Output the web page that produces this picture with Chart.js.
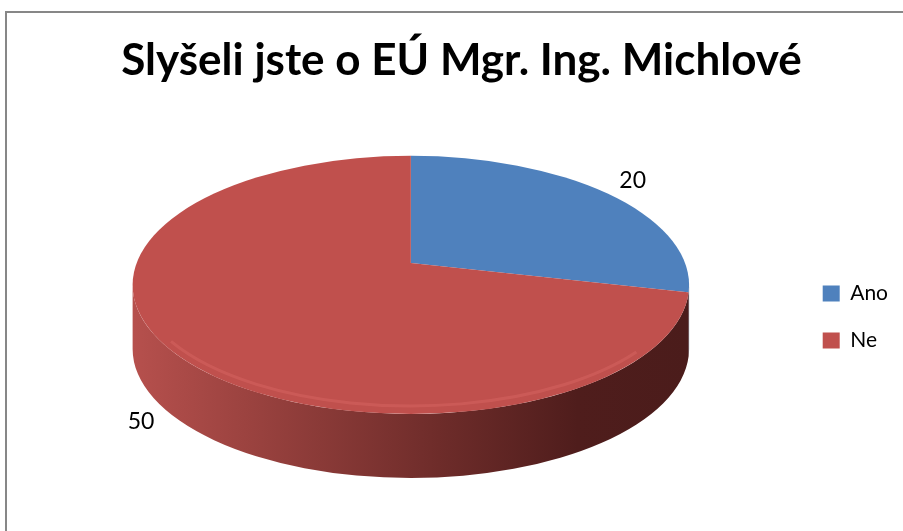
<!DOCTYPE html>
<html>
<head>
<meta charset="utf-8">
<script src="https://cdn.jsdelivr.net/npm/chart.js@4.4.1/dist/chart.umd.min.js"></script>
<style>
  html, body { margin: 0; padding: 0; background: #fff; overflow: hidden; }
  canvas { display: block; }
</style>
</head>
<body>
<canvas id="myChart" width="903" height="531"></canvas>
<script>
const labels = ["Ano", "Ne"];
const values = [20, 50];
const topColors = ["#4F81BD", "#C0504D"];
const titleText = "Slyšeli jste o EÚ Mgr. Ing. Michlové";

// look of the 3D disc
const TILT = 0.464;      // height / width of the top face
const DEPTH = 64;        // thickness of the side
const PERSPECTIVE = 22;  // slices meet this far above the middle of the top face
const LABEL_K = { x: 1.13, y: 1.3 };
const LABEL_SHIFT = -24;

const sideStops = [
  [[0, "#4a79b3"], [0.2, "#3f6898"], [0.55, "#30507a"], [0.8, "#223a59"], [1, "#213855"]],
  [[0, "#b6504d"], [0.2, "#9c4340"], [0.55, "#6e2c2a"], [0.8, "#4f1d1c"], [1, "#4b1c1b"]]
];

// angle on the rim where a slice edge from the raised hub meets the ellipse
function rimAngle(theta, ry) {
  const k = PERSPECTIVE / ry;
  const c = Math.cos(theta), s = Math.sin(theta);
  const t = s * k + Math.sqrt(s * s * k * k - k * k + 1);
  let phi = Math.atan2(t * s - k, t * c);
  while (phi < theta - Math.PI) phi += Math.PI * 2;
  while (phi > theta + Math.PI) phi -= Math.PI * 2;
  return phi;
}

const pie3d = {
  id: "pie3d",
  afterLayout(chart) {
    // keep the legend centred against the plot, not the whole height
    chart.legend.top = chart.chartArea.top;
    chart.legend.bottom = chart.chartArea.bottom;
  },
  beforeDraw(chart) {
    const ctx = chart.ctx;
    ctx.save();
    ctx.strokeStyle = "#878787";
    ctx.lineWidth = 2;
    ctx.beginPath();
    ctx.moveTo(6, chart.height + 10);
    ctx.lineTo(6, 12);
    ctx.lineTo(chart.width + 10, 12);
    ctx.stroke();
    ctx.restore();
  },
  beforeDatasetsDraw(chart) {
    const ctx = chart.ctx;
    const area = chart.chartArea;
    const arcs = chart.getDatasetMeta(0).data;
    const ax = arcs[0].x, ay = arcs[0].y, r = arcs[0].outerRadius;
    const ry = (area.bottom - area.top - DEPTH) / 2;
    const rx = ry / TILT;
    const cx = ax;
    const cy = area.top + ry;
    chart.$pie = { cx, cy, rx, ry };

    // side walls (front half only)
    arcs.forEach((arc, i) => {
      const a0 = Math.max(rimAngle(arc.startAngle, ry), 0);
      const a1 = Math.min(rimAngle(arc.endAngle, ry), Math.PI);
      if (a1 <= a0) return;
      const g = ctx.createLinearGradient(cx - rx, 0, cx + rx, 0);
      sideStops[i].forEach(s => g.addColorStop(s[0], s[1]));
      ctx.save();
      ctx.beginPath();
      ctx.ellipse(cx, cy, rx, ry, 0, a0, a1);
      ctx.lineTo(cx + rx * Math.cos(a1), cy + ry * Math.sin(a1) + DEPTH);
      ctx.ellipse(cx, cy + DEPTH, rx, ry, 0, a1, a0, true);
      ctx.closePath();
      ctx.fillStyle = g;
      ctx.fill();
      ctx.restore();
    });

    // top face: the library's own arcs squashed into an ellipse,
    // hub pulled up a little for perspective and clipped to the rim
    ctx.save();
    ctx.beginPath();
    ctx.ellipse(cx, cy, rx, ry, 0, 0, Math.PI * 2);
    ctx.clip();
    ctx.translate(cx, cy - PERSPECTIVE);
    ctx.scale(1.3 * rx / r, 1.3 * ry / r);
    ctx.translate(-ax, -ay);
    arcs.forEach(arc => arc.draw(ctx));
    ctx.restore();

    // soft bevel highlight along the front rim
    ctx.save();
    ctx.beginPath();
    ctx.ellipse(cx, cy - 3, rx - 5, ry - 5, 0, 0.6, Math.PI - 0.5);
    ctx.strokeStyle = "rgba(232, 120, 115, 0.28)";
    ctx.lineWidth = 3;
    ctx.stroke();
    ctx.restore();
    return false;
  },
  afterDraw(chart) {
    const ctx = chart.ctx;
    const p = chart.$pie;
    const arcs = chart.getDatasetMeta(0).data;
    ctx.save();
    ctx.font = "23px Lato";
    ctx.fillStyle = "#000";
    ctx.textAlign = "center";
    ctx.textBaseline = "middle";
    arcs.forEach((arc, i) => {
      const mid = (arc.startAngle + arc.endAngle) / 2;
      const s = Math.sin(mid), c = Math.cos(mid);
      const x = p.cx + LABEL_SHIFT + p.rx * c * LABEL_K.x;
      const y = p.cy + p.ry * s * LABEL_K.y + (s > 0 ? DEPTH * 0.5 : 0);
      ctx.fillText(String(values[i]), x, y);
    });
    ctx.restore();
  }
};

const ctx = document.getElementById("myChart").getContext("2d");
const myChart = new Chart(ctx, {
  type: "pie",
  data: {
    labels: labels,
    datasets: [{
      data: values,
      backgroundColor: topColors,
      borderWidth: 0
    }]
  },
  options: {
    responsive: false,
    animation: false,
    events: [],
    layout: { padding: { left: 25, right: 5, top: 0, bottom: 53 } },
    plugins: {
      title: {
        display: true,
        text: titleText,
        color: "#000",
        font: { family: "Lato", size: 44, weight: "bold" },
        padding: { top: 34, bottom: 69 }
      },
      legend: {
        position: "right",
        align: "center",
        labels: {
          boxWidth: 17,
          boxHeight: 16,
          padding: 26,
          color: "#000",
          font: { family: "Lato", size: 21 }
        }
      },
      tooltip: { enabled: false }
    }
  },
  plugins: [pie3d]
});
</script>
</body>
</html>
